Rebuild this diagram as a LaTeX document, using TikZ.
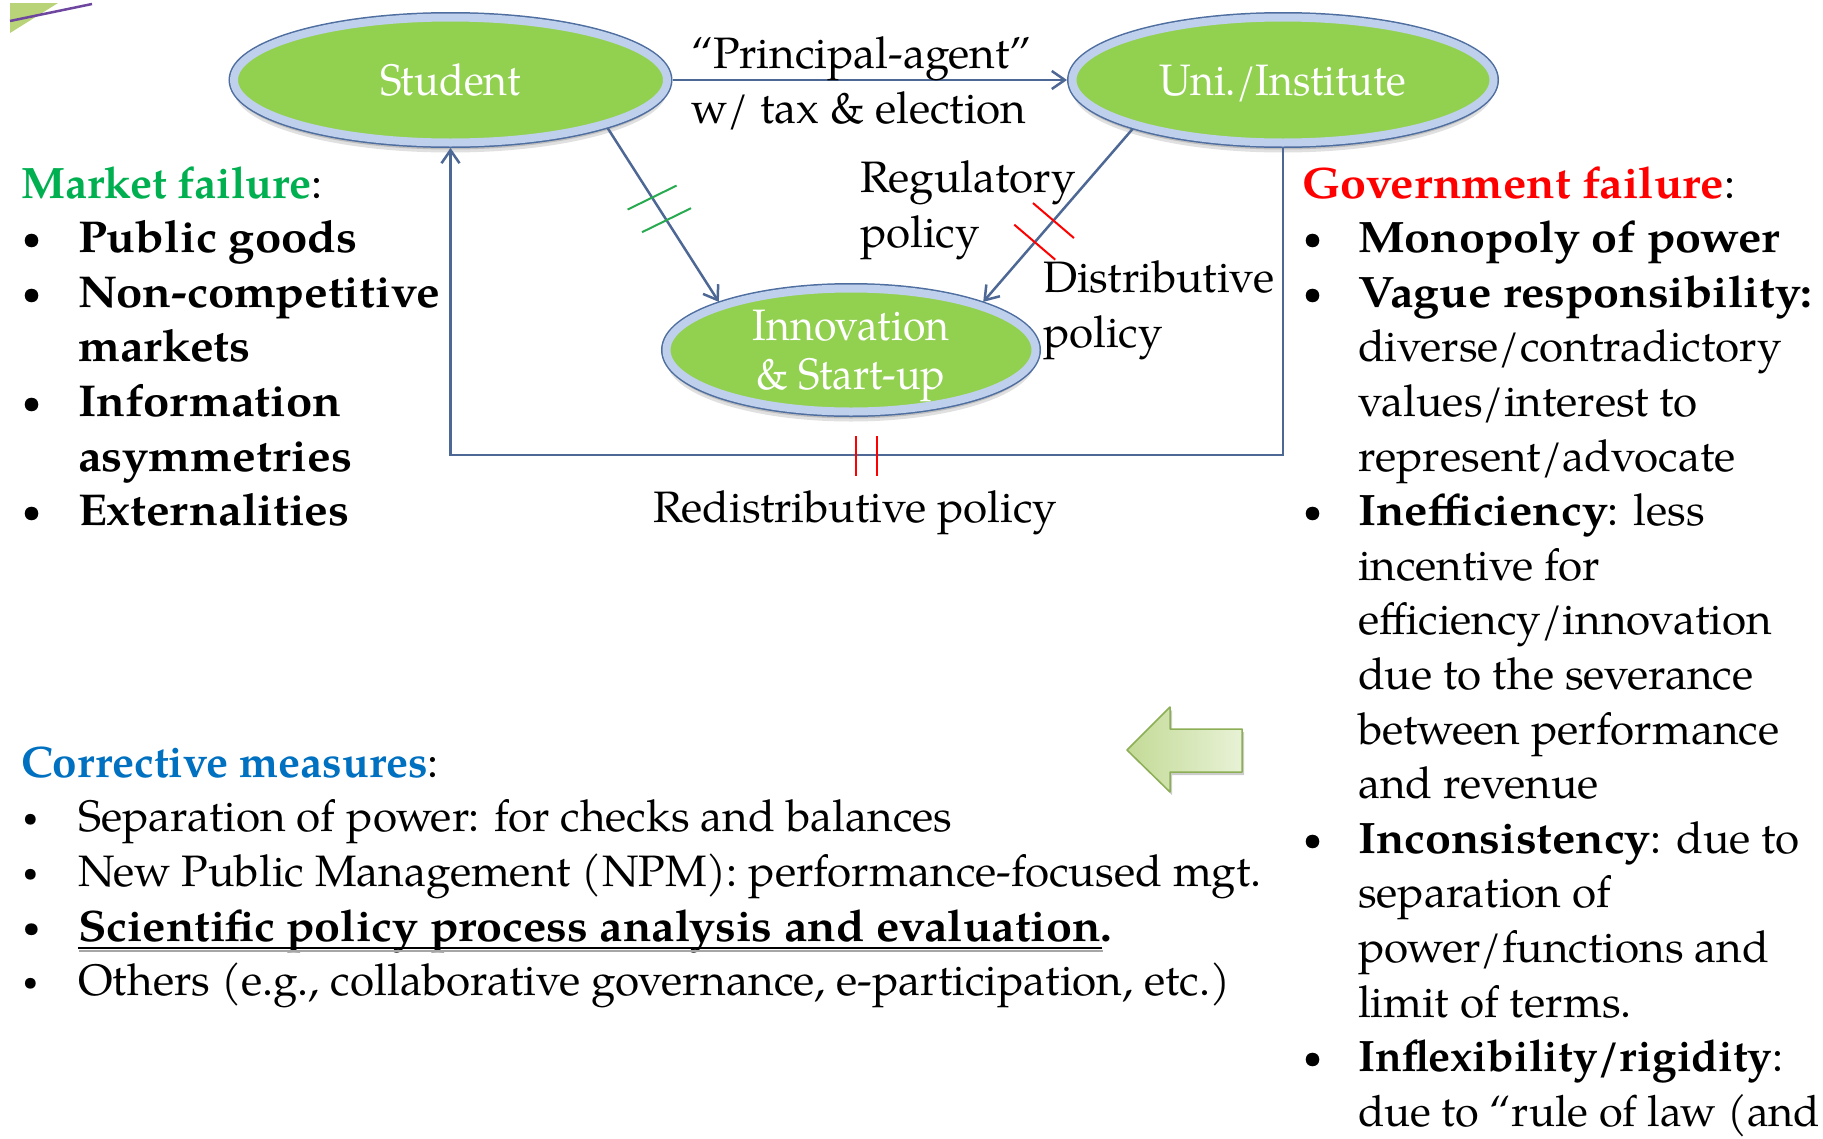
\documentclass[tikz,border=0pt]{standalone}
\usepackage{fontspec}
\setmainfont{TeX Gyre Pagella}[BoldFeatures={FakeStretch=1.06}]
\newfontfamily\plainfont{TeX Gyre Pagella}
\newfontfamily\ellfont[FakeStretch=0.93]{TeX Gyre Pagella}
\usetikzlibrary{arrows.meta,shadows,calc,shapes.geometric}

\definecolor{ellgreen}{RGB}{146,208,80}
\definecolor{ringlight}{RGB}{190,208,235}
\definecolor{ringdark}{RGB}{79,110,160}
\definecolor{conncol}{RGB}{78,104,150}
\definecolor{mktgreen}{RGB}{0,176,80}
\definecolor{govred}{RGB}{255,0,0}
\definecolor{corrblue}{RGB}{0,112,192}
\definecolor{tickgreen}{RGB}{40,170,80}
\definecolor{arrowedge}{RGB}{140,175,85}
\definecolor{arrowdark}{RGB}{195,218,150}
\definecolor{arrowlight}{RGB}{232,242,214}
\definecolor{decogreen}{RGB}{185,212,120}
\definecolor{decopurple}{RGB}{110,70,160}

\newcommand\bigbul{\raisebox{3pt}{\fontsize{34}{34}\selectfont\textbullet}}
\newcommand\smallbul{\raisebox{5pt}{\fontsize{27}{27}\selectfont\textbullet}}

\tikzset{
  ell/.style={ellipse, inner sep=0pt, outer sep=5.5pt,
    drop shadow={shadow xshift=0pt, shadow yshift=-10pt, opacity=0.12, fill=black},
    drop shadow={shadow xshift=0pt, shadow yshift=-7pt, opacity=0.15, fill=black},
    preaction={draw=ringdark, line width=11pt},
    fill=ellgreen, draw=ringlight, line width=8pt,
    text=white, text depth=0pt, align=center,
    font=\ellfont\fontsize{44}{49}\selectfont},
  conn/.style={draw=conncol, line width=2.5pt,
    -{Straight Barb[length=13pt,width=18pt,line width=2.5pt]}},
  body/.style={anchor=base west, inner sep=0pt, outer sep=0pt,
    font=\fontsize{44}{55}\selectfont},
  bbody/.style={body, font=\fontsize{44}{55}\selectfont\bfseries},
  lbody/.style={body, font=\fontsize{44.6}{55}\selectfont\bfseries},
  head/.style={body, font=\plainfont\fontsize{44}{55}\selectfont},
  tickline/.style={line width=2pt},
}

\begin{document}
\begin{tikzpicture}[x=1pt,y=-1pt]
\path[fill=white, use as bounding box] (0,0) rectangle (1823,1138);

% corner decoration
\fill[decogreen] (10,3) -- (58,3) -- (10,33) -- cycle;
\draw[decopurple, line width=2.5pt] (10,21) -- (92,4);

% ellipses
\node[ell, minimum width=433pt, minimum height=125pt] (S) at (450.5,80) {Student};
\node[ell, minimum width=421pt, minimum height=125pt] (U) at (1283,80) {Uni./Institute};
\node[ell, minimum width=369pt, minimum height=123pt] (I) at (851,350) {Innovation\\\& Start-up};

% connectors
\draw[conn] (S.east) -- (U.west);
\draw[conn] (S.-17.7) -- coordinate[pos=.40] (g1) coordinate[pos=.53] (g2) (I.160);
\draw[conn] (U.198) -- coordinate[pos=.53] (r1) coordinate[pos=.655] (r2) (I.20);
\coordinate (loopy) at (0,455);
\draw[conn] (U.south) -- (U.south |- loopy) -- coordinate[pos=.5] (rt) (S.south |- loopy) -- (S.south);

% tick marks
\draw[tickline, tickgreen] ($(g1)+(-24.5,12)$) -- ($(g1)+(24.5,-12)$);
\draw[tickline, tickgreen] ($(g2)+(-24.5,12)$) -- ($(g2)+(24.5,-12)$);
\draw[tickline, red] ($(r1)+(-20.5,-17.5)$) -- ($(r1)+(20.5,17.5)$);
\draw[tickline, red] ($(r2)+(-20.5,-17.5)$) -- ($(r2)+(20.5,17.5)$);
\draw[tickline, red] ($(rt)+(-10.5,-19)$) -- ($(rt)+(-10.5,21)$);
\draw[tickline, red] ($(rt)+(10.5,-19)$) -- ($(rt)+(10.5,21)$);

% connector labels
\node[body] (pa1) at (691,68) {“Principal-agent”};
\node[body] (pa2) at (691,123) {w/ tax \& election};
\node[body] (rg1) at (860,192) {Regulatory};
\node[body] (rg2) at (860,247) {policy};
\node[body] (ds1) at (1043,292) {Distributive};
\node[body] (ds2) at (1043,347) {policy};
\node[body] (rd) at (653,522) {Redistributive policy};

% market failure
\node[head] (mf) at (21,198) {{\color{mktgreen}\bfseries Market failure}:};
\node[body] (mb1) at (22,198+54.6) {\bigbul};
\node[lbody] (m1) at (78,198+54.6) {Public goods};
\node[body] (mb2) at (22,198+54.6*2) {\bigbul};
\node[lbody] (m2) at (78,198+54.6*2) {Non-competitive};
\node[lbody] (m3) at (78,198+54.6*3) {markets};
\node[body] (mb4) at (22,198+54.6*4) {\bigbul};
\node[lbody] (m4) at (78,198+54.6*4) {Information};
\node[lbody] (m5) at (78,198+54.6*5) {asymmetries};
\node[body] (mb6) at (22,198+54.6*6) {\bigbul};
\node[lbody] (m6) at (78,198+54.6*6) {Externalities};

% government failure
\node[body] (gf) at (1302,198) {{\color{govred}\bfseries Government failure}:};
\node[body] (gb1) at (1303,198+54.6) {\bigbul};
\node[bbody] (g1t) at (1358,198+54.6) {Monopoly of power};
\node[body] (gb2) at (1303,198+54.6*2) {\bigbul};
\node[bbody] (g2t) at (1358,198+54.6*2) {Vague responsibility:};
\node[body] (g3t) at (1358,198+54.6*3) {diverse/contradictory};
\node[body] (g4t) at (1358,198+54.6*4) {values/interest to};
\node[body] (g5t) at (1358,198+54.6*5) {represent/advocate};
\node[body] (gb6) at (1303,198+54.6*6) {\bigbul};
\node[body] (g6t) at (1358,198+54.6*6) {\textbf{Inefficiency}: less};
\node[body] (g7t) at (1358,198+54.6*7) {incentive for};
\node[body] (g8t) at (1358,198+54.6*8) {efficiency/innovation};
\node[body] (g9t) at (1358,198+54.6*9) {due to the severance};
\node[body] (g10t) at (1358,198+54.6*10) {between performance};
\node[body] (g11t) at (1358,198+54.6*11) {and revenue};
\node[body] (gb12) at (1303,198+54.6*12) {\bigbul};
\node[body] (g12t) at (1358,198+54.6*12) {\textbf{Inconsistency}: due to};
\node[body] (g13t) at (1358,198+54.6*13) {separation of};
\node[body] (g14t) at (1358,198+54.6*14) {power/functions and};
\node[body] (g15t) at (1358,198+54.6*15) {limit of terms.};
\node[body] (gb16) at (1303,198+54.6*16) {\bigbul};
\node[head] (g16t) at (1358,198+54.6*16) {\textbf{Inflexibility/rigidity}:};
\node[body, font=\fontsize{43.2}{55}\selectfont] (g17t) at (1358,198+54.6*17) {due to “rule of law (and};

% big green arrow
\draw[draw=arrowedge, line width=1.5pt, line join=round,
      drop shadow={shadow xshift=2pt, shadow yshift=-3pt, opacity=0.2, fill=black},
      left color=arrowdark, right color=arrowlight]
  (1127,750) -- (1170,707) -- (1170,729) -- (1242,729) -- (1242,772)
  -- (1170,772) -- (1170,792) -- cycle;

% corrective measures
\node[head] (cm) at (21,777) {{\color{corrblue}\bfseries Corrective measures}:};
\node[body] (cb1) at (23,777+54.7) {\smallbul};
\node[body] (c1) at (78,777+54.7) {Separation of power: for checks and balances};
\node[body] (cb2) at (23,777+54.7*2) {\smallbul};
\node[body] (c2) at (78,777+54.7*2) {New Public Management (NPM): performance-focused mgt.};
\node[body] (cb3) at (23,777+54.7*3) {\bfseries\smallbul};
\node[bbody] (sc) at (78,777+54.7*3) {Scientific policy process analysis and evaluation.};
\draw[gray!70, line width=2pt] ($(sc.base west)+(1,10)$) -- ($(sc.base east)+(-9,10)$);
\draw[black, line width=2pt] ($(sc.base west)+(0,7)$) -- ($(sc.base east)+(-10,7)$);
\node[body] (cb4) at (23,777+54.7*4) {\smallbul};
\node[body] (c4) at (78,777+54.7*4) {Others (e.g., collaborative governance, e-participation, etc.)};
\end{tikzpicture}
\end{document}
